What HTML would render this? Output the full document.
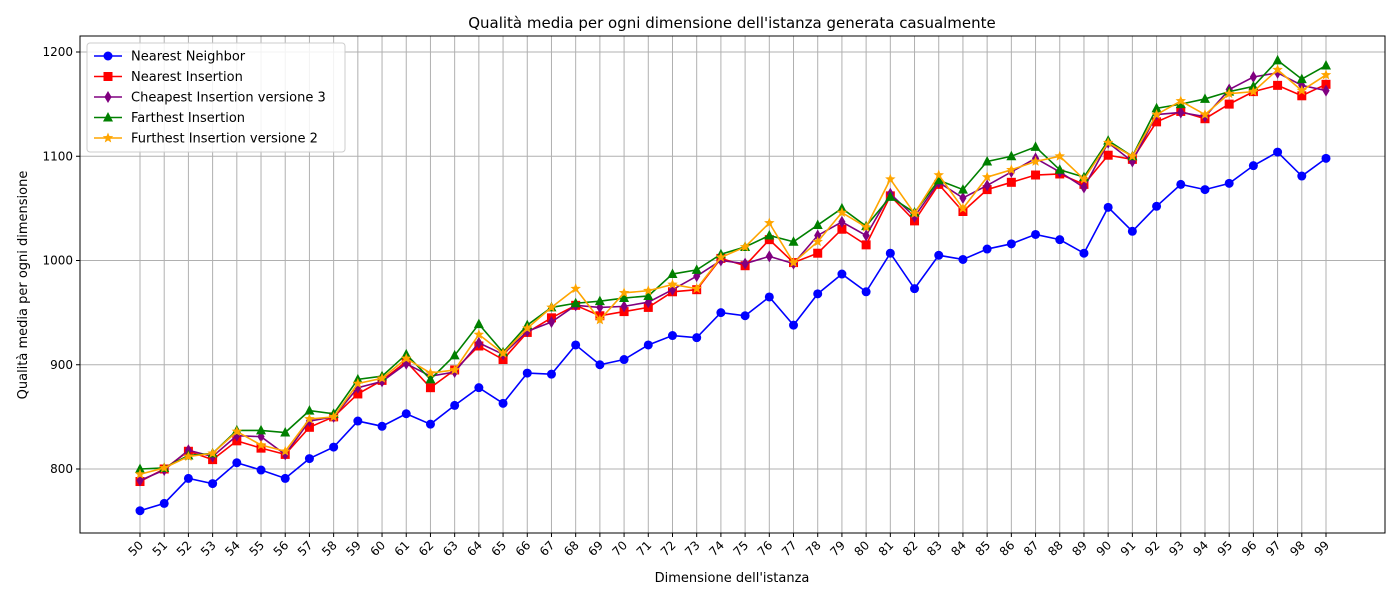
<!DOCTYPE html>
<html><head><meta charset="utf-8"><style>
body{margin:0;background:#fff;font-family:"Liberation Sans","DejaVu Sans",sans-serif}
svg text{font-family:"DejaVu Sans","Liberation Sans",sans-serif}
</style></head><body>
<svg id="chart" width="1400" height="600" xmlns="http://www.w3.org/2000/svg">
<rect width="1400" height="600" fill="#fff"/>
<g id="grid"></g><g id="series"></g><g id="axes"></g><g id="legend"></g>
</svg>
<script>
const categories=[50,51,52,53,54,55,56,57,58,59,60,61,62,63,64,65,66,67,68,69,70,71,72,73,74,75,76,77,78,79,80,81,82,83,84,85,86,87,88,89,90,91,92,93,94,95,96,97,98,99];
const nearestNeighbor=[760,767,791,786,806,799,791,810,821,846,841,853,843,861,878,863,892,891,919,900,905,919,928,926,950,947,965,938,968,987,970,1007,973,1005,1001,1011,1016,1025,1020,1007,1051,1028,1052,1073,1068,1074,1091,1104,1081,1098];
const nearestInsertion=[788,800,817,809,827,820,814,840,850,872,885,903,878,895,918,905,931,945,957,947,951,955,970,972,1002,995,1020,998,1007,1030,1015,1062,1038,1073,1047,1068,1075,1082,1083,1073,1101,1097,1133,1143,1136,1150,1162,1168,1158,1169];
const cheapestInsertion3=[789,799,818,812,832,831,814,846,850,878,884,901,889,893,921,910,932,941,957,955,956,960,972,985,1000,997,1004,997,1024,1037,1024,1064,1042,1075,1060,1072,1085,1098,1085,1070,1113,1095,1140,1142,1138,1164,1176,1180,1168,1163];
const farthestInsertion=[800,801,813,815,837,837,835,856,853,886,889,910,886,909,939,912,938,955,959,961,964,966,987,991,1006,1013,1024,1018,1034,1050,1033,1061,1046,1077,1068,1095,1100,1109,1087,1080,1115,1100,1146,1150,1155,1162,1167,1192,1174,1187];
const furthestInsertion2=[795,801,812,815,836,823,817,848,850,882,887,906,892,895,929,911,935,955,973,943,969,971,977,973,1003,1013,1036,998,1018,1046,1032,1078,1045,1082,1050,1080,1087,1095,1100,1078,1113,1100,1140,1153,1140,1160,1162,1183,1163,1178];
const yTicks=[800,900,1000,1100,1200];
const seriesNames=["Nearest Neighbor","Nearest Insertion","Cheapest Insertion versione 3","Farthest Insertion","Furthest Insertion versione 2"];

const NS="http://www.w3.org/2000/svg";
const L=80,R=1385,T=36,B=533;
function xPos(i){return 140+i*(1326-140)/49;}
function yPos(v){return 469-(v-800)*1.0425;}
function mk(tag,attrs,parent){const e=document.createElementNS(NS,tag);for(const k in attrs)e.setAttribute(k,attrs[k]);parent.appendChild(e);return e;}
const grid=document.getElementById('grid'),axes=document.getElementById('axes'),ser=document.getElementById('series'),leg=document.getElementById('legend');
categories.forEach((c,i)=>{const x=xPos(i);
 const g=mk('line',{x1:x,x2:x,y1:T,y2:B,stroke:'#b0b0b0','stroke-width':1},grid);
 
 
 mk('line',{x1:x,x2:x,y1:B,y2:B+4,stroke:'#000'},axes);
 const t=mk('text',{x:x+4,y:B+13,'font-size':12,'text-anchor':'end',transform:`rotate(-45 ${x+4} ${B+13})`},axes);
 t.textContent=c;
 
 
});
yTicks.forEach(v=>{const y=yPos(v);
 const g=mk('line',{x1:L,x2:R,y1:y,y2:y,stroke:'#b0b0b0','stroke-width':1},grid);
 
 
 mk('line',{x1:L-4,x2:L,y1:y,y2:y,stroke:'#000'},axes);
 const t=mk('text',{x:L-7,y:y+4,'font-size':12,'text-anchor':'end'},axes);
 t.textContent=v;
 
 
});
const frame=mk('rect',{x:L,y:T,width:R-L,height:B-T,fill:'none',stroke:'#000','stroke-width':1},axes);


let t=mk('text',{x:732,y:28,'font-size':15,'text-anchor':'middle'},axes);t.textContent="Qualità media per ogni dimensione dell'istanza generata casualmente";


t=mk('text',{x:732,y:582,'font-size':13,'text-anchor':'middle'},axes);t.textContent="Dimensione dell'istanza";


t=mk('text',{x:27,y:285,'font-size':13,'text-anchor':'middle',transform:'rotate(-90 27 285)'},axes);t.textContent="Qualità media per ogni dimensione";



function marker(type,x,y,color,p){
 if(type==='o')return mk('circle',{cx:x,cy:y,r:4.5,fill:color},p);
 if(type==='s')return mk('rect',{x:x-4.5,y:y-4.5,width:9,height:9,fill:color},p);
 if(type==='d')return mk('polygon',{points:`${x},${y-6} ${x+3.6},${y} ${x},${y+6} ${x-3.6},${y}`,fill:color},p);
 if(type==='^')return mk('polygon',{points:`${x},${y-5.5} ${x+5},${y+4} ${x-5},${y+4}`,fill:color},p);
 let pts=[];for(let k=0;k<10;k++){const a=-Math.PI/2+k*Math.PI/5,r=k%2?2.4:5.5;pts.push((x+r*Math.cos(a)).toFixed(2)+','+(y+r*Math.sin(a)).toFixed(2));}
 return mk('polygon',{points:pts.join(' '),fill:color},p);
}
const defs=[[nearestNeighbor,'blue','o','nearest-neighbor'],[nearestInsertion,'red','s','nearest-insertion'],[cheapestInsertion3,'purple','d','cheapest-insertion-v3'],[farthestInsertion,'green','^','farthest-insertion'],[furthestInsertion2,'orange','*','furthest-insertion-v2']];
defs.forEach(([vals,col,m,name])=>{
 const g=mk('g',{},ser);
 
 
 const l=mk('polyline',{points:vals.map((v,i)=>xPos(i)+','+yPos(v)).join(' '),fill:'none',stroke:col,'stroke-width':1.6},g);
 
 
 vals.forEach((v,i)=>{const e=marker(m,xPos(i),yPos(v),col,g);
  
  });
});
const lb=mk('rect',{x:87,y:43,width:258,height:109,rx:3,fill:'#fff','fill-opacity':0.85,stroke:'#ccc'},leg);


defs.forEach(([vals,col,m,name],k)=>{const y=56+k*20.5;
 const g=mk('g',{},leg);
 
 
 mk('line',{x1:94,x2:122,y1:y,y2:y,stroke:col,'stroke-width':1.6},g);
 marker(m,108,y,col,g);
 const tx=mk('text',{x:131,y:y+4.5,'font-size':13},g);tx.textContent=seriesNames[k];
});
</script>
</body></html>
